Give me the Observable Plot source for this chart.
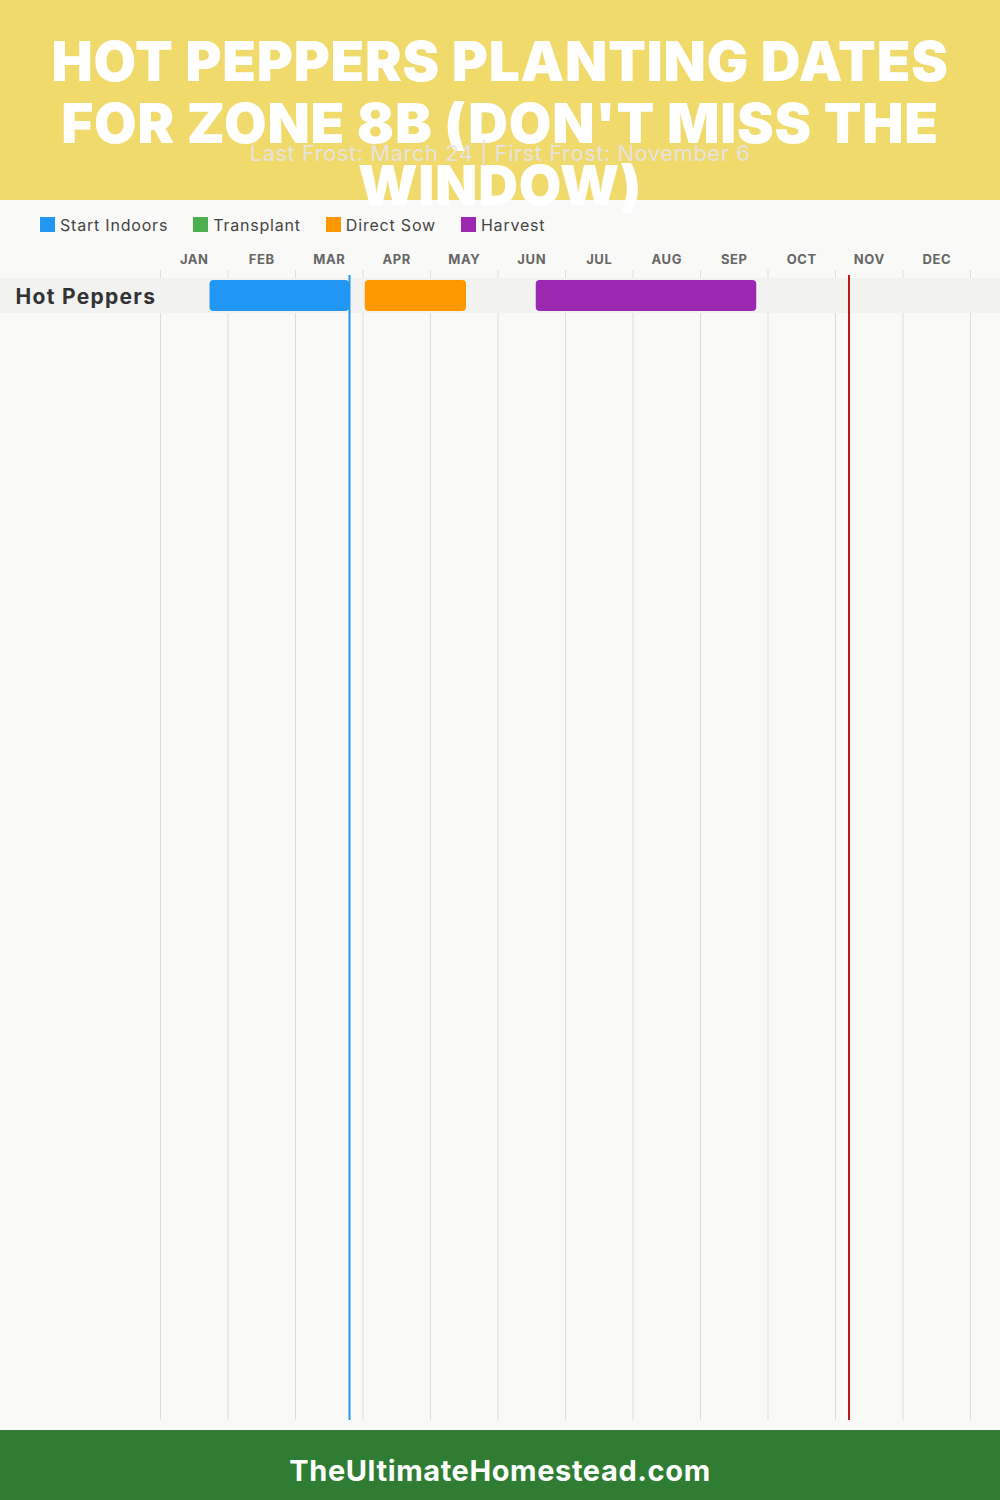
<!DOCTYPE html>
<html>
<head>
<meta charset="utf-8">
<script src="https://cdn.jsdelivr.net/npm/d3@7"></script>
<script src="https://cdn.jsdelivr.net/npm/@observablehq/plot@0.6"></script>
<style>
  html, body { margin: 0; padding: 0; background: #f9f9f7; }
  body { width: 1000px; font-family: Inter, "Open Sans", sans-serif; }
  #header { position: relative; height: 200px; background: #F0DA6C; z-index: 2; }
  #title { position: absolute; left: 0; right: 0; top: 30px; text-align: center; color: #fff;
           font-weight: 900; font-size: 55px; line-height: 62px; letter-spacing: 0.8px; }
  #subtitle { position: absolute; left: 0; right: 0; top: 140px; text-align: center;
              color: #e6e3de; font-size: 22px; font-weight: 400; line-height: 26px; letter-spacing: 0.5px; }
  #chart { background: #f9f9f7; position: relative; z-index: 1; }
  #legend { height: 45px; padding-top: 4px; box-sizing: border-box; display: flex; align-items: center; padding-left: 40px; gap: 25px;
            font-size: 16px; color: #444; letter-spacing: 0.8px; }
  .item { display: flex; align-items: center; gap: 5px; }
  .sw { width: 15px; height: 15px; display: inline-block; }
  #footer { height: 70px; background: #2E7D32; color: #fff; text-align: center; font-weight: 700;
            font-size: 29px; line-height: 70px; padding-top: 6px; box-sizing: border-box; letter-spacing: 0.6px; }
  svg { display: block; }
</style>
</head>
<body>
<div id="header">
  <div id="title">HOT PEPPERS PLANTING DATES<br>FOR ZONE 8B (DON'T MISS THE<br>WINDOW)</div>
  <div id="subtitle"></div>
</div>
<div id="chart">
  <div id="legend"></div>
  <div id="plot"></div>
</div>
<div id="footer">TheUltimateHomestead.com</div>
<script>
// ---- data ----
const crops = ["Hot Peppers"];
const phases = ["Start Indoors", "Transplant", "Direct Sow", "Harvest"];
const phaseColors = ["#2196F3", "#4CAF50", "#FF9800", "#9C27B0"];
const months = ["JAN","FEB","MAR","APR","MAY","JUN","JUL","AUG","SEP","OCT","NOV","DEC"];
const monthNames = ["Jan","Feb","Mar","Apr","May","Jun","Jul","Aug","Sep","Oct","Nov","Dec"];
const barCrop = ["Hot Peppers", "Hot Peppers", "Hot Peppers"];
const barPhase = ["Start Indoors", "Direct Sow", "Harvest"];
const barStart = ["Jan 22", "Apr 1", "Jun 17"];
const barEnd = ["Mar 24", "May 16", "Sep 25"];
const lastFrost = "Mar 24";
const firstFrost = "Nov 6";
const subtitleText = "Last Frost: March 24 | First Frost: November 6";

// date "Mon D" -> position in months
const pos = s => { const [m, d] = s.split(" "); return monthNames.indexOf(m) + (+d) / 30; };

const bars = barCrop.map((c, i) => ({crop: c, phase: barPhase[i], start: pos(barStart[i]), end: pos(barEnd[i])}));

document.getElementById("subtitle").textContent = subtitleText;
const lg = document.getElementById("legend");
phases.forEach((p, i) => {
  const it = document.createElement("div"); it.className = "item";
  it.innerHTML = `<span class="sw" style="background:${phaseColors[i]}"></span><span>${p}</span>`;
  lg.appendChild(it);
});

const chart = Plot.plot({
  width: 1000, height: 1185,
  marginLeft: 160, marginRight: 30, marginTop: 25, marginBottom: 10,
  style: {background: "transparent", fontFamily: "Inter, 'Open Sans', sans-serif"},
  x: {domain: [0, 12], axis: null},
  y: {type: "band", domain: crops, range: [33, 68], padding: 0, axis: null},
  color: {domain: phases, range: phaseColors},
  marks: [
    Plot.ruleX(d3.range(13), {stroke: "#dddddd", strokeWidth: 1}),
    Plot.barX(crops, {x1: 0, x2: 12, y: d => d, fill: "#f2f2f1", insetLeft: -160, insetRight: -30}),
    Plot.barX(bars, {x1: "start", x2: "end", y: "crop", fill: "phase", insetTop: 2, insetBottom: 2, rx: 4}),
    Plot.ruleX([pos(lastFrost)], {stroke: "#2196F3", strokeWidth: 2, insetTop: 5}),
    Plot.ruleX([pos(firstFrost)], {stroke: "#B71C1C", strokeWidth: 2, insetTop: 5}),
    Plot.text(months, {x: (d, i) => i + 0.5, text: d => d, frameAnchor: "top", lineAnchor: "middle", dy: -11,
                       fontWeight: 700, fontSize: 13, fill: "#666"}),
    Plot.text(crops, {y: d => d, text: d => d, frameAnchor: "left", dx: -145, textAnchor: "start", dy: 1,
                      fontWeight: 700, fontSize: 21, fill: "#333"})
  ]
});
// letter spacing for text marks
d3.select(chart).selectAll("text").filter(function(){ return months.includes(this.textContent); }).style("letter-spacing", "0.6px");
d3.select(chart).selectAll("text").filter(function(){ return crops.includes(this.textContent); }).style("letter-spacing", "1.3px");
document.getElementById("plot").appendChild(chart);
</script>
</body>
</html>
